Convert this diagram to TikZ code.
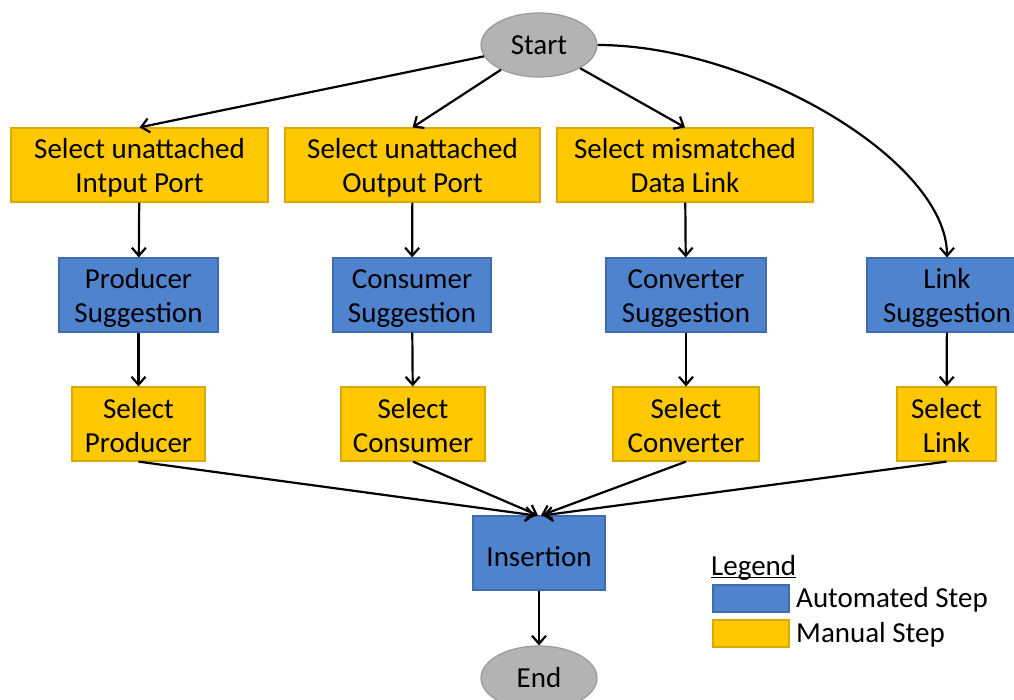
\documentclass[tikz,border=0pt]{standalone}
\usepackage{fontspec}
\setmainfont{Carlito}
\usetikzlibrary{shapes.geometric,arrows.meta}
\definecolor{ylw}{HTML}{FFC800}
\definecolor{ylwb}{HTML}{D9A900}
\definecolor{blu}{HTML}{4F83CD}
\definecolor{blub}{HTML}{3F6CAE}
\definecolor{gry}{HTML}{B3B3B3}
\definecolor{gryb}{HTML}{999999}
\tikzset{
  base/.style={inner sep=0pt, align=center, font=\fontsize{29}{34}\selectfont, line width=1.2pt},
  twoline/.style={text height=62pt, text depth=6pt},
  oneline/.style={text height=26pt, text depth=0pt},
  manualbox/.style={base, rectangle, fill=ylw, draw=ylwb},
  autobox/.style={base, rectangle, fill=blu, draw=blub},
  term/.style={base, ellipse, fill=gry, draw=gryb, minimum width=116pt, minimum height=64pt},
  conn/.style={line width=2.2pt, -{Straight Barb[length=8pt,width=14pt,line width=2.2pt]}},
  lgtext/.style={inner sep=0pt, anchor=west, font=\fontsize{29}{34}\selectfont}
}
\begin{document}
\begin{tikzpicture}[x=1pt,y=-1pt]
\useasboundingbox (0,0) rectangle (1014,700);
% terminals
\node[term] (start) at (539,45) {Start};
\node[term] (end) at (539,678) {End};
% row 1
\node[manualbox, twoline, minimum width=257pt, minimum height=74pt] (s1) at (139.5,165) {Select unattached\\Intput Port};
\node[manualbox, twoline, minimum width=255pt, minimum height=74pt] (s2) at (412.5,165) {Select unattached\\Output Port};
\node[manualbox, twoline, minimum width=256pt, minimum height=74pt] (s3) at (685,165) {Select mismatched\\Data Link};
% row 2
\node[autobox, twoline, minimum width=159pt, minimum height=74pt] (g1) at (138.5,295) {Producer\\Suggestion};
\node[autobox, twoline, minimum width=158pt, minimum height=74pt] (g2) at (412,295) {Consumer\\Suggestion};
\node[autobox, twoline, minimum width=160pt, minimum height=74pt] (g3) at (686,295) {Converter\\Suggestion};
\node[autobox, twoline, minimum width=160pt, minimum height=74pt] (g4) at (947,295) {Link\\Suggestion};
% row 3
\node[manualbox, twoline, minimum width=133pt, minimum height=74pt] (c1) at (138.5,424) {Select\\Producer};
\node[manualbox, twoline, minimum width=144pt, minimum height=74pt] (c2) at (413,424) {Select\\Consumer};
\node[manualbox, twoline, minimum width=146pt, minimum height=74pt] (c3) at (686,424) {Select\\Converter};
\node[manualbox, twoline, minimum width=99pt, minimum height=74pt] (c4) at (946.5,424) {Select\\Link};
% insertion
\node[autobox, oneline, minimum width=132pt, minimum height=74pt] (ins) at (539,553) {Insertion};
% connectors
\draw[conn] (start) -- (s1.north);
\draw[conn] (start) -- (s2.north);
\draw[conn] (start) -- (s3.north);
\draw[conn] (start.east) .. controls (750,45) and (947,160) .. (g4.north);
\draw[conn] (s1) -- (g1);
\draw[conn] (s2) -- (g2);
\draw[conn] (s3) -- (g3);
\draw[conn] (g1) -- (c1);
\draw[conn] (g2) -- (c2);
\draw[conn] (g3) -- (c3);
\draw[conn] (g4) -- (c4);
\draw[conn] (c1.south) -- ([xshift=-4pt]ins.north);
\draw[conn] (c2.south) -- ([xshift=-1pt]ins.north);
\draw[conn] (c3.south) -- ([xshift=2pt]ins.north);
\draw[conn] (c4.south) -- ([xshift=4pt]ins.north);
\draw[conn] (ins) -- (end);
% legend
\node[lgtext] (lg) at (711,567.5) {Legend};
\draw[line width=1.6pt] ([yshift=-2.5pt]lg.base west) -- ([yshift=-2.5pt]lg.base east);
\node[autobox, minimum width=76pt, minimum height=27pt] (la) at (751,598.5) {};
\node[manualbox, minimum width=76pt, minimum height=27pt] (lm) at (751,633.5) {};
\node[lgtext] (lat) at (796,600) {Automated Step};
\node[lgtext] (lmt) at (796,635) {Manual Step};
\end{tikzpicture}
\end{document}
